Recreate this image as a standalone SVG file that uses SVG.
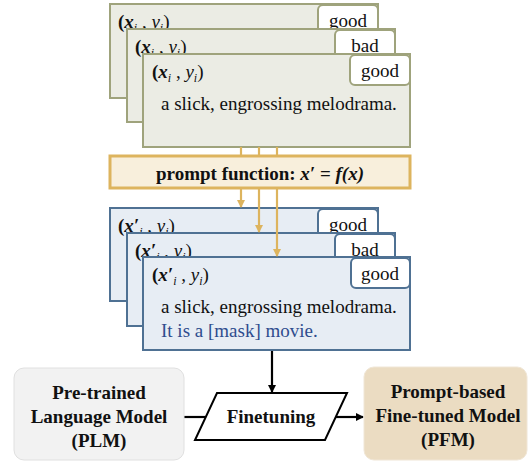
<svg xmlns="http://www.w3.org/2000/svg" width="529" height="461" viewBox="0 0 529 461">
<defs>
<style>
text{font-family:"Liberation Serif","Times New Roman",serif;font-size:19px;fill:#111}
.card-a{fill:#ebece4;stroke:#9fa37c;stroke-width:2}
.card-b{fill:#e7edf4;stroke:#4f7193;stroke-width:2}
.lab-a{fill:#fff;stroke:#9fa37c;stroke-width:2}
.lab-b{fill:#fff;stroke:#4f7193;stroke-width:2}
.b{font-weight:bold}
.bi{font-weight:bold;font-style:italic}
.it{font-style:italic}
.sub{font-style:italic;font-size:12px}
.mid{text-anchor:middle}
.blue{fill:#2e4c8e}
.gold{stroke:#ddb45e;stroke-width:2.2;fill:none}
.blk{stroke:#000;stroke-width:2.2;fill:none}
</style>
<marker id="ag" markerWidth="8" markerHeight="8" refX="7" refY="4" orient="auto" markerUnits="userSpaceOnUse">
<path d="M0,0 L8,4 L0,8 z" fill="#ddb45e"/>
</marker>
<marker id="ab" markerWidth="8" markerHeight="8" refX="7" refY="4" orient="auto" markerUnits="userSpaceOnUse">
<path d="M0,0 L8,4 L0,8 z" fill="#000"/>
</marker>
</defs>
<rect width="529" height="461" fill="#fff"/>

<g id="input-card-1">
<rect class="card-a" x="110" y="4" width="268" height="94"/>
<rect class="lab-a" x="318" y="5" width="60" height="30" rx="5"/>
<text x="348" y="27" class="mid">good</text>
<text x="118" y="28"><tspan class="b">(</tspan><tspan class="bi">x</tspan><tspan class="sub" dy="4">i</tspan><tspan dy="-4"> , </tspan><tspan class="it">y</tspan><tspan class="sub" dy="4">i</tspan><tspan dy="-4">)</tspan></text>
</g>
<g id="input-card-2">
<rect class="card-a" x="127" y="29" width="268" height="93"/>
<rect class="lab-a" x="335" y="30" width="60" height="30" rx="5"/>
<text x="365" y="52" class="mid">bad</text>
<text x="135" y="53"><tspan class="b">(</tspan><tspan class="bi">x</tspan><tspan class="sub" dy="4">i</tspan><tspan dy="-4"> , </tspan><tspan class="it">y</tspan><tspan class="sub" dy="4">i</tspan><tspan dy="-4">)</tspan></text>
</g>
<g id="input-card-3">
<rect class="card-a" x="143" y="54" width="267" height="93"/>
<rect class="lab-a" x="350" y="55" width="60" height="30" rx="5"/>
<text x="380" y="77" class="mid">good</text>
<text x="152" y="78"><tspan class="b">(</tspan><tspan class="bi">x</tspan><tspan class="sub" dy="4">i</tspan><tspan dy="-4"> , </tspan><tspan class="it">y</tspan><tspan class="sub" dy="4">i</tspan><tspan dy="-4">)</tspan></text>
<text x="161" y="110">a slick, engrossing melodrama.</text>
</g>

<g id="prompt-cards">
<g id="prompt-card-1">
<rect class="card-b" x="110" y="208" width="268" height="93"/>
<rect class="lab-b" x="318" y="209" width="60" height="30" rx="5"/>
<text x="348" y="231" class="mid">good</text>
<text x="118" y="232"><tspan class="b">(</tspan><tspan class="bi">x′</tspan><tspan class="sub" dy="4">i</tspan><tspan dy="-4"> , </tspan><tspan class="it">y</tspan><tspan class="sub" dy="4">i</tspan><tspan dy="-4">)</tspan></text>
</g>
<g id="prompt-card-2">
<rect class="card-b" x="127" y="233" width="268" height="93"/>
<rect class="lab-b" x="335" y="234" width="60" height="30" rx="5"/>
<text x="365" y="256" class="mid">bad</text>
<text x="135" y="257"><tspan class="b">(</tspan><tspan class="bi">x′</tspan><tspan class="sub" dy="4">i</tspan><tspan dy="-4"> , </tspan><tspan class="it">y</tspan><tspan class="sub" dy="4">i</tspan><tspan dy="-4">)</tspan></text>
</g>
<g id="prompt-card-3">
<rect class="card-b" x="143" y="257" width="267" height="93"/>
<rect class="lab-b" x="351" y="258" width="59" height="30" rx="5"/>
<text x="380" y="280" class="mid">good</text>
<text x="152" y="281"><tspan class="b">(</tspan><tspan class="bi">x′</tspan><tspan class="sub" dy="4">i</tspan><tspan dy="-4"> , </tspan><tspan class="it">y</tspan><tspan class="sub" dy="4">i</tspan><tspan dy="-4">)</tspan></text>
<text x="161" y="313">a slick, engrossing melodrama.</text>
<text x="161" y="337" class="blue">It is a [mask] movie.</text>
</g>
</g>

<g id="connectors">
<line class="gold" x1="241" y1="147" x2="241" y2="157"/>
<line class="gold" x1="259" y1="147" x2="259" y2="157"/>
<line class="gold" x1="277" y1="147" x2="277" y2="157"/>
<line class="gold" x1="241" y1="188" x2="241" y2="207" marker-end="url(#ag)"/>
<line class="gold" x1="259" y1="188" x2="259" y2="232" marker-end="url(#ag)"/>
<line class="gold" x1="277" y1="188" x2="277" y2="256" marker-end="url(#ag)"/>
<line class="blk" x1="272" y1="351" x2="272" y2="392" marker-end="url(#ab)"/>
<line class="blk" x1="184" y1="417" x2="206" y2="417"/>
<line class="blk" x1="336" y1="417" x2="363" y2="417" marker-end="url(#ab)"/>
</g>

<g id="prompt-function">
<rect x="110" y="156" width="300" height="32" fill="#f8efdc" stroke="#ddb45e" stroke-width="3"/>
<text x="260" y="180" class="mid b">prompt function: <tspan class="bi">x′</tspan> = <tspan class="bi">f(x)</tspan></text>
</g>

<g id="plm">
<rect x="14" y="368" width="170" height="92" rx="10" fill="#f2f2f2" stroke="#e0e0e0" stroke-width="1"/>
<text x="99" y="399" class="mid b">Pre-trained</text>
<text x="99" y="423" class="mid b">Language Model</text>
<text x="99" y="447" class="mid b">(PLM)</text>
</g>

<g id="finetuning">
<polygon points="217,393 347,393 325,440 195,440" fill="#fff" stroke="#000" stroke-width="2"/>
<text x="271" y="423" class="mid b">Finetuning</text>
</g>

<g id="pfm">
<rect x="364" y="367" width="163" height="93" rx="10" fill="#ebdcc2" stroke="#f0e6d6" stroke-width="1"/>
<text x="448" y="398" class="mid b">Prompt-based</text>
<text x="448" y="422" class="mid b">Fine-tuned Model</text>
<text x="448" y="446" class="mid b">(PFM)</text>
</g>
</svg>
